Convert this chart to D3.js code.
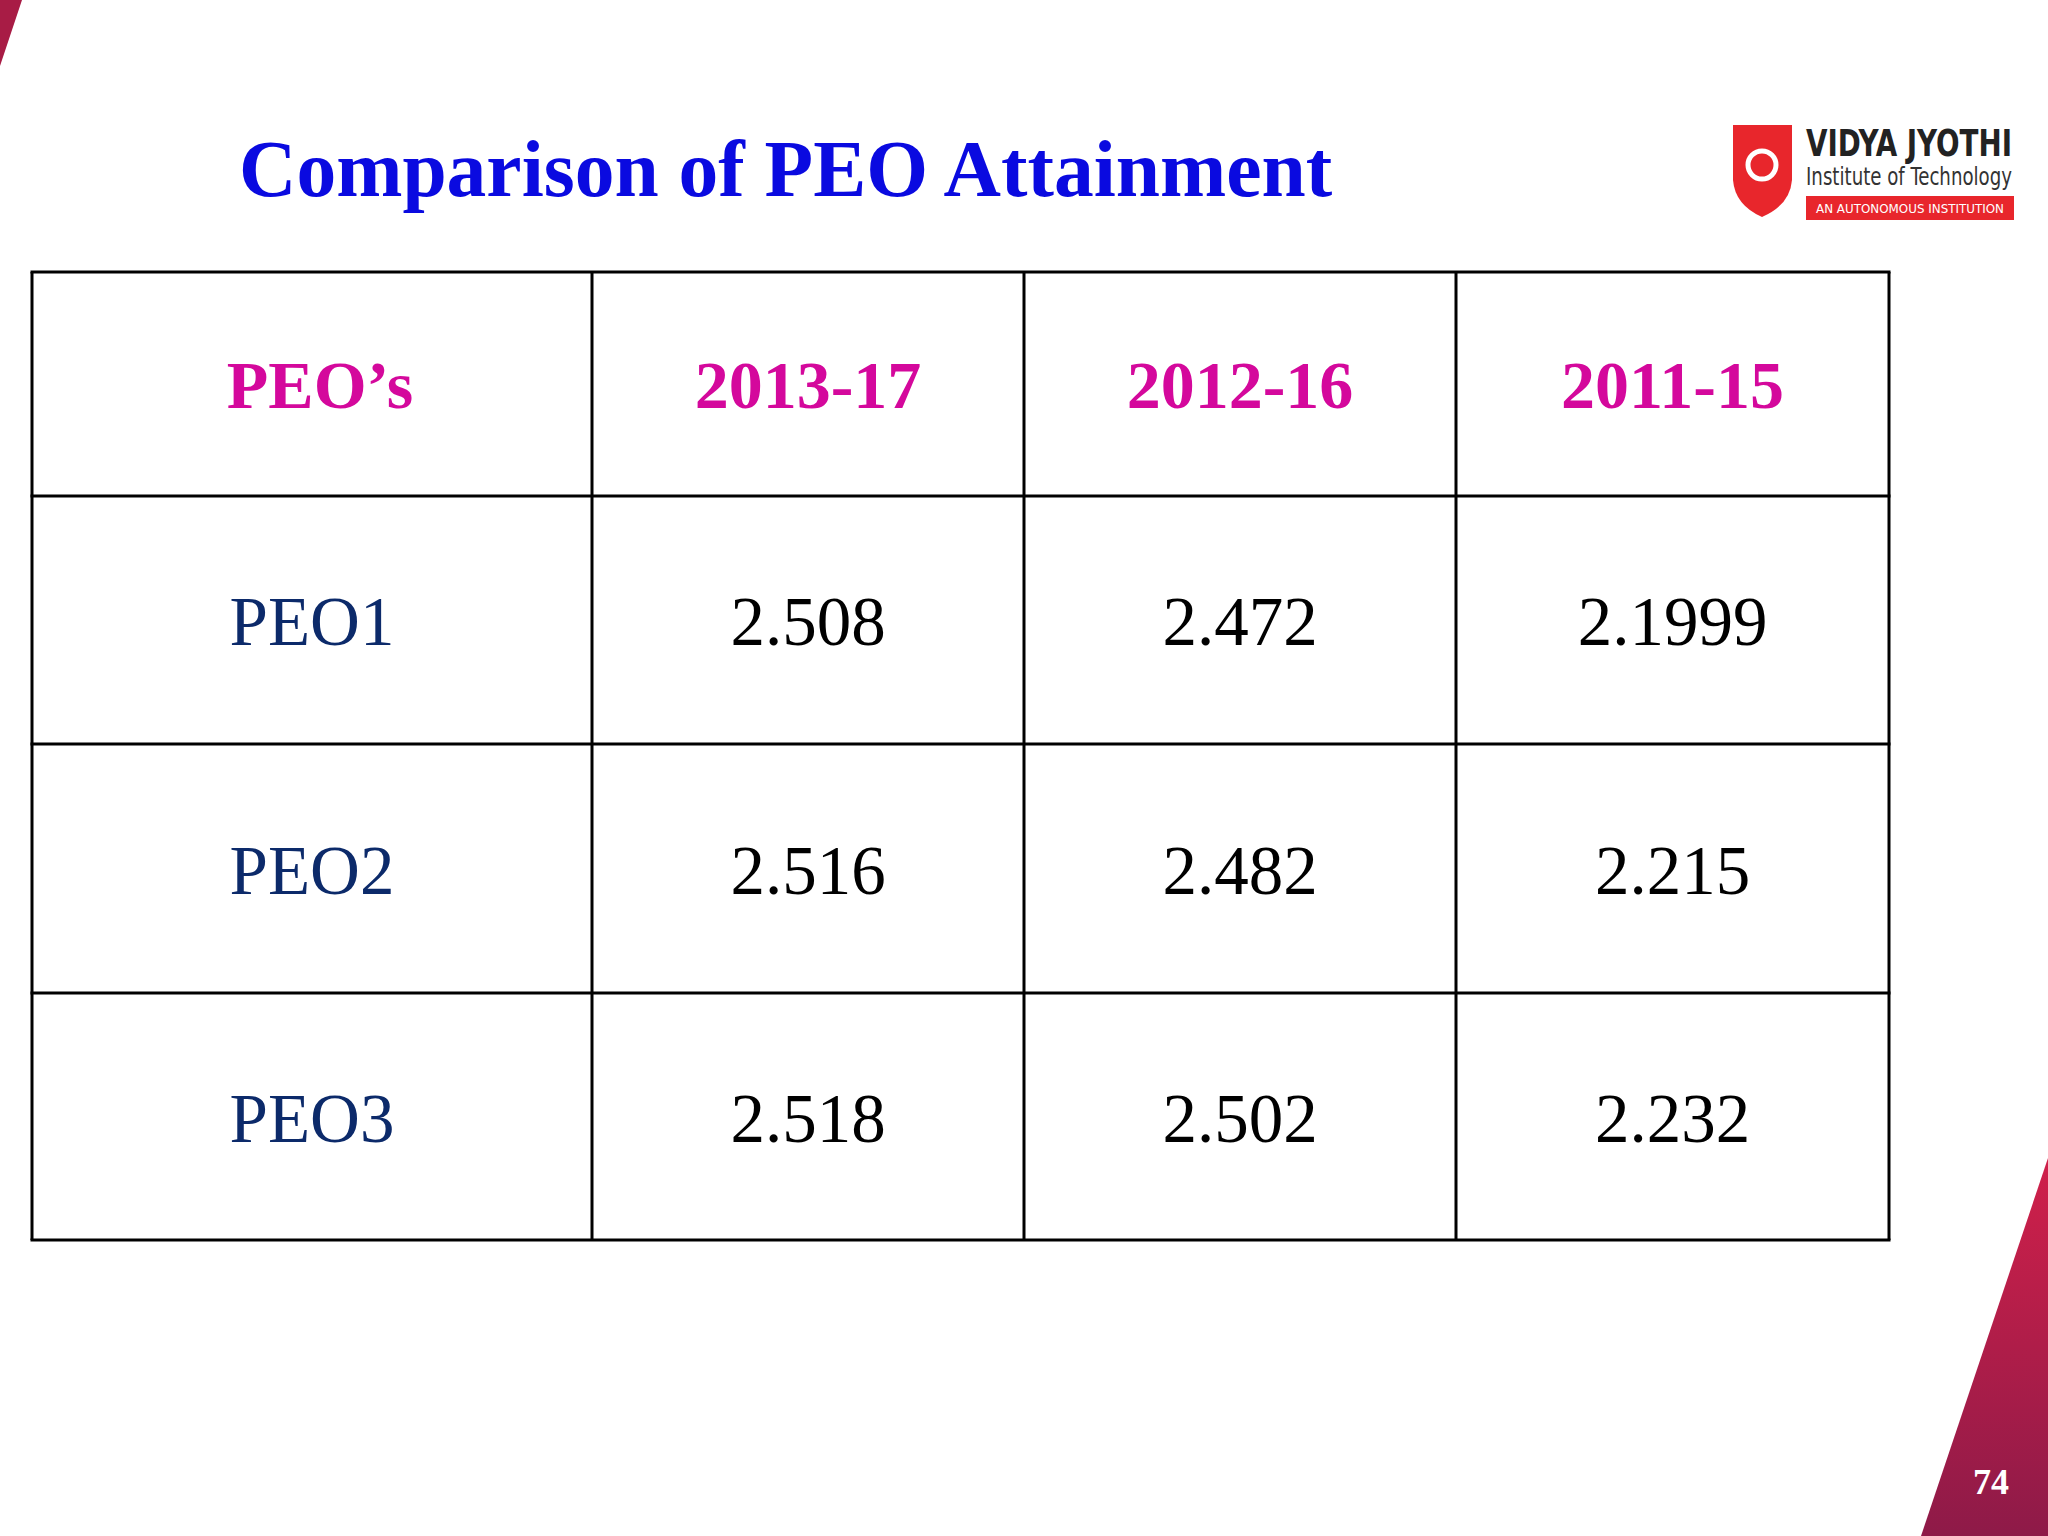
<!DOCTYPE html>
<html><head><meta charset="utf-8">
<script src="https://cdn.jsdelivr.net/npm/d3@7"></script>
<style>body{margin:0;background:#fff}</style></head>
<body><svg id="c" width="2048" height="1536"></svg>
<script>
const headers = ["PEO’s","2013-17","2012-16","2011-15"];
const rowLabels = ["PEO1","PEO2","PEO3"];
const s2013 = ["2.508","2.516","2.518"];
const s2012 = ["2.472","2.482","2.502"];
const s2011 = ["2.1999","2.215","2.232"];

const svg = d3.select("#c");
const defs = svg.append("defs");
const g = defs.append("linearGradient").attr("id","rg").attr("x1",0).attr("y1",0).attr("x2",0).attr("y2",1);
g.append("stop").attr("offset",0).attr("stop-color","#d0204a");
g.append("stop").attr("offset",1).attr("stop-color","#8e1a48");
svg.append("path").attr("d","M0,0 L22,0 L0,66 Z").attr("fill","#a81c45");
svg.append("path").attr("d","M2048,1158 L2048,1536 L1921,1536 Z").attr("fill","url(#rg)");
svg.append("text").attr("x",1991).attr("y",1494).attr("text-anchor","middle")
  .attr("font-family","Liberation Serif").attr("font-weight","bold").attr("font-size",36).attr("fill","#fff").text("74");

svg.append("text").attr("x",239).attr("y",196).attr("font-family","Liberation Serif")
  .attr("font-weight","bold").attr("font-size",79.5).attr("fill","#0a0ae0").text("Comparison of PEO Attainment");

// logo
const L = svg.append("g");
L.append("path").attr("d","M1733,125 L1792,125 L1792,180 Q1790,205 1762,217 Q1735,205 1733,180 Z").attr("fill","#e8262c");
L.append("circle").attr("cx",1762).attr("cy",165).attr("r",14).attr("fill","none").attr("stroke","#fff").attr("stroke-width",5);
L.append("text").attr("x",1806).attr("y",156).attr("font-family","DejaVu Sans Condensed, DejaVu Sans").attr("font-weight","bold")
  .attr("font-size",38).attr("fill","#222").attr("textLength",206).attr("lengthAdjust","spacingAndGlyphs").text("VIDYA JYOTHI");
L.append("text").attr("x",1806).attr("y",185).attr("font-family","DejaVu Sans Condensed, DejaVu Sans")
  .attr("font-size",24).attr("fill","#333").attr("textLength",206).attr("lengthAdjust","spacingAndGlyphs").text("Institute of Technology");
L.append("rect").attr("x",1806).attr("y",196).attr("width",208).attr("height",24).attr("fill","#e8262c");
L.append("text").attr("x",1910).attr("y",213).attr("text-anchor","middle").attr("font-family","DejaVu Sans")
  .attr("font-size",12).attr("fill","#fff").attr("textLength",188).attr("lengthAdjust","spacingAndGlyphs").text("AN AUTONOMOUS INSTITUTION");

// table
const colEdges = [32,592,1024,1456,1889];
const rowEdges = [272,496,744,993,1240];
const T = svg.append("g");
rowEdges.forEach(y=>T.append("line").attr("x1",colEdges[0]-1.5).attr("x2",colEdges[4]+1.5).attr("y1",y).attr("y2",y).attr("stroke","#000").attr("stroke-width",3));
colEdges.forEach(x=>T.append("line").attr("y1",rowEdges[0]).attr("y2",rowEdges[4]).attr("x1",x).attr("x2",x).attr("stroke","#000").attr("stroke-width",3));
const cx = i=>(colEdges[i]+colEdges[i+1])/2;
const cy = i=>(rowEdges[i]+rowEdges[i+1])/2;
headers.forEach((h,i)=>T.append("text").attr("x",cx(i)+(i==0?8:0)).attr("y",cy(0)+24).attr("text-anchor","middle")
  .attr("font-family","Liberation Serif").attr("font-weight","bold").attr("font-size",68).attr("fill","#d4089c").text(h));
const cols=[rowLabels,s2013,s2012,s2011];
cols.forEach((col,ci)=>col.forEach((v,ri)=>T.append("text").attr("x",cx(ci)).attr("y",cy(ri+1)+25).attr("text-anchor","middle")
  .attr("font-family","Liberation Serif").attr("font-size",69).attr("fill",ci==0?"#0c2a6a":"#000").text(v)));
</script></body></html>
